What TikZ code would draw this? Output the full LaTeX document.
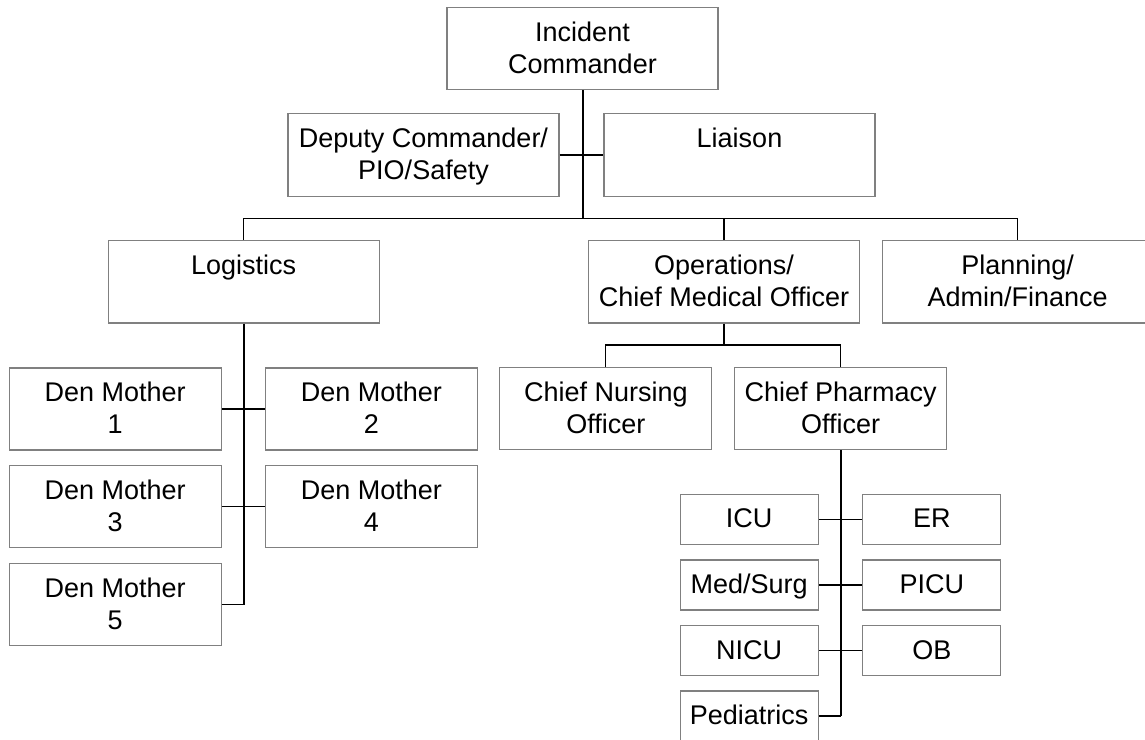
\documentclass[tikz,border=0pt]{standalone}
\usepackage{fontspec}
\setmainfont{Liberation Sans}
\newcommand\mystr{\rule[-7.5pt]{0pt}{32pt}}
\newcommand\twol[2]{#1\mystr\\#2\mystr}
\begin{document}
\begin{tikzpicture}[x=1pt,y=-1pt,
  box/.style={draw=black!50, line width=1.2pt, fill=white, inner sep=0pt,
    align=center, font=\fontsize{27}{32}\selectfont, text=black},
  bigbox/.style={box, minimum width=271pt, minimum height=82.5pt},
  midbox/.style={box, minimum width=212pt, minimum height=82pt},
  smallbox/.style={box, minimum width=138pt, minimum height=50pt},
  link/.style={draw=black, line width=1.2pt},
  trunk/.style={draw=black, line width=2pt}]
\useasboundingbox (0,0) rectangle (1145,739);
\begin{scope}
\clip (0,0) rectangle (1145,739);
% nodes
\node[bigbox] (IC) at (582.5,48.5) {\twol{Incident}{Commander}};
\node[bigbox] (Dep) at (423.5,155) {\twol{Deputy Commander/}{PIO/Safety}};
\node[bigbox] (Lia) at (739.5,155) {\twol{Liaison}{}};
\node[bigbox] (Log) at (243.7,281.7) {\twol{Logistics}{}};
\node[bigbox] (Ops) at (724,281.7) {\twol{Operations/}{Chief Medical Officer}};
\node[bigbox] (Plan) at (1017.7,281.7) {\twol{Planning/}{Admin/Finance}};
\node[midbox] (DM1) at (115.2,409) {\twol{Den Mother}{1}};
\node[midbox] (DM2) at (371.3,409) {\twol{Den Mother}{2}};
\node[midbox] (DM3) at (115.2,506.7) {\twol{Den Mother}{3}};
\node[midbox] (DM4) at (371.3,506.7) {\twol{Den Mother}{4}};
\node[midbox] (DM5) at (115.2,604.5) {\twol{Den Mother}{5}};
\node[midbox] (CNO) at (605.8,408.7) {\twol{Chief Nursing}{Officer}};
\node[midbox] (CPO) at (840.7,408.7) {\twol{Chief Pharmacy}{Officer}};
\node[smallbox] (ICU) at (749.2,519.2) {ICU\mystr};
\node[smallbox] (ER) at (931.8,519.2) {ER\mystr};
\node[smallbox] (Med) at (749.2,585) {Med/Surg\mystr};
\node[smallbox] (PICU) at (931.8,585) {PICU\mystr};
\node[smallbox] (NICU) at (749.2,650.7) {NICU\mystr};
\node[smallbox] (OB) at (931.8,650.7) {OB\mystr};
\node[smallbox] (Ped) at (749.2,716) {Pediatrics\mystr};
% junction points of the bars
\coordinate (b1) at (582.5,218.3);
\coordinate (b2) at (724,345);
% connectors
\draw[trunk] (IC.south) -- (b1);
\draw[link] (Dep.east) -- (Lia.west);
\draw[link] (Log.north) |- (b1) -| (Plan.north);
\draw[link] (Ops.north) -- (Ops.north |- b1);
\draw[trunk] (Log.south) -- (Log.south |- DM5.east);
\draw[link] (DM1.east) -- (DM2.west);
\draw[link] (DM3.east) -- (DM4.west);
\draw[link] (DM5.east) -- (Log.south |- DM5.east);
\draw[link] (Ops.south) -- (b2);
\draw[link] (CNO.north) |- (b2) -| (CPO.north);
\draw[trunk] (CPO.south) -- (CPO.south |- Ped.east);
\draw[link] (ICU.east) -- (ER.west);
\draw[link] (Med.east) -- (PICU.west);
\draw[link] (NICU.east) -- (OB.west);
\draw[link] (Ped.east) -- (CPO.south |- Ped.east);
\end{scope}
\end{tikzpicture}
\end{document}
